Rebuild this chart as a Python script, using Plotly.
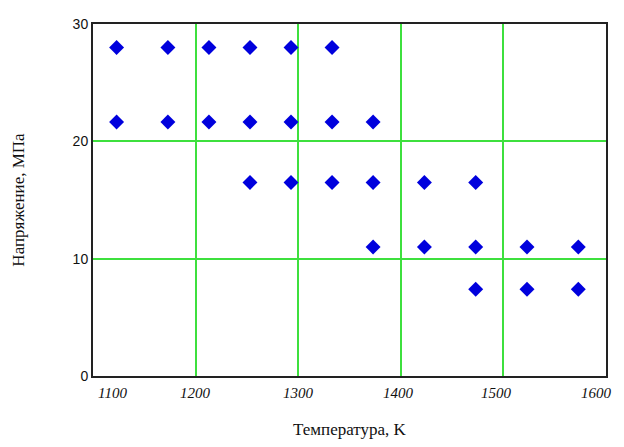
import plotly.graph_objects as go

# Data: temperature (K) and stress (MPa)
temps_28 = [1123, 1173, 1213, 1253, 1293, 1333]
temps_216 = [1123, 1173, 1213, 1253, 1293, 1333, 1373]
temps_165 = [1253, 1293, 1333, 1373, 1423, 1473]
temps_11 = [1373, 1423, 1473, 1523, 1573]
temps_74 = [1473, 1523, 1573]
stress_levels = [28.0, 21.65, 16.5, 11.0, 7.4]

x_ticks = [1100, 1200, 1300, 1400, 1500, 1600]
x_tick_labels = ["1100", "1200", "1300", "1400", "1500", "1600"]
y_ticks = [0, 10, 20, 30]
y_tick_labels = ["0", "10", "20", "30"]

groups = [temps_28, temps_216, temps_165, temps_11, temps_74]
xs, ys = [], []
for t_list, s in zip(groups, stress_levels):
    xs += t_list
    ys += [s] * len(t_list)

fig = go.Figure()
fig.add_trace(go.Scatter(
    x=xs, y=ys, mode="markers",
    marker=dict(symbol="diamond", size=11.5, color="#0000dd", line=dict(width=0)),
    showlegend=False, cliponaxis=False,
))

# x tick labels as annotations (edge labels pulled inward, as in the reference)
x_shifts = [19, 0, 0, -2, -7, -10]
for v, lab, dx in zip(x_ticks, x_tick_labels, x_shifts):
    fig.add_annotation(
        x=v, y=0, xref="x", yref="paper", text=lab, showarrow=False,
        xanchor="center", yanchor="top", yshift=-7, xshift=dx,
        font=dict(family="Liberation Serif", size=15, color="#111", style="italic"),
    )

fig.add_annotation(
    x=0.5, y=0, xref="paper", yref="paper", xanchor="center", yanchor="middle",
    yshift=-53, xshift=0, text="Температура, K", showarrow=False,
    font=dict(family="Liberation Serif", size=17, color="#111"),
)

fig.update_layout(
    width=608, height=431,
    margin=dict(l=85, r=8, t=8, b=63),
    paper_bgcolor="white", plot_bgcolor="white",
    xaxis=dict(
        range=[1100, 1600], tickvals=x_ticks, ticktext=x_tick_labels,
        showticklabels=False, ticks="",
        showgrid=True, gridcolor="#3ee03e", gridwidth=1.5,
        showline=True, linecolor="#222", linewidth=2, mirror=True,
        zeroline=False,
    ),
    yaxis=dict(
        range=[0, 30], tickvals=y_ticks, ticktext=y_tick_labels, ticks="",
        ticklabelstandoff=0,
        tickfont=dict(family="Liberation Sans", size=14, color="#111"),
        showgrid=True, gridcolor="#3ee03e", gridwidth=1.5,
        showline=True, linecolor="#222", linewidth=2, mirror=True,
        zeroline=False,
        title=dict(text="Напряжение, МПа", standoff=44,
                   font=dict(family="Liberation Serif", size=17, color="#111")),
    ),
)

fig.write_html("out.html")
